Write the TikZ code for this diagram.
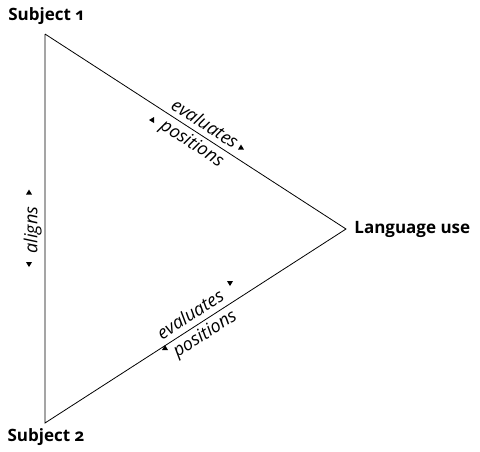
\documentclass[tikz,border=0pt]{standalone}
\usepackage{fontspec}
\setmainfont{Open Sans}[Numbers=OldStyle]

\tikzset{
  corner/.style={font=\bfseries\fontsize{17}{19}\selectfont, inner sep=0pt},
  lab/.style={font=\itshape\fontsize{18}{20}\selectfont, inner sep=1.5pt},
}

\begin{document}
\begin{tikzpicture}[x=1pt, y=-1pt, line width=0.8pt]

\useasboundingbox (0,0) rectangle (480,451);

\coordinate (s1) at (45,34);
\coordinate (s2) at (45,423);
\coordinate (lu) at (346,229);

\draw (s1) -- node[lab, above=3.5pt, sloped, pos=0.51] (ev1) {evaluates}
             node[lab, below=2pt, sloped, pos=0.51] (po1) {positions} (lu)
           -- node[lab, above=4pt, sloped, pos=0.495] (ev2) {evaluates}
             node[lab, below=2pt, sloped, pos=0.49] (po2) {positions} (s2)
           -- node[lab, above=1.5pt, sloped, pos=0.496] (al) {aligns} (s1);

\node[corner] (sub1) at (46,16) {Subject 1};
\node[corner] (sub2) at (46,437) {Subject 2};
\node[corner, anchor=west] (lang) at (354,229) {Language use};

% small direction marks
\fill (238,149.5) -- (244,149.5) -- (241,144.5) -- cycle;
\fill (154,117) -- (154,123) -- (149,120) -- cycle;
\fill (227,281) -- (233,281) -- (230,286) -- cycle;
\fill (162,350) -- (168,350) -- (165,345) -- cycle;
\fill (26,194.5) -- (32,194.5) -- (29,189.5) -- cycle;
\fill (26,262) -- (32,262) -- (29,267) -- cycle;

\end{tikzpicture}
\end{document}
